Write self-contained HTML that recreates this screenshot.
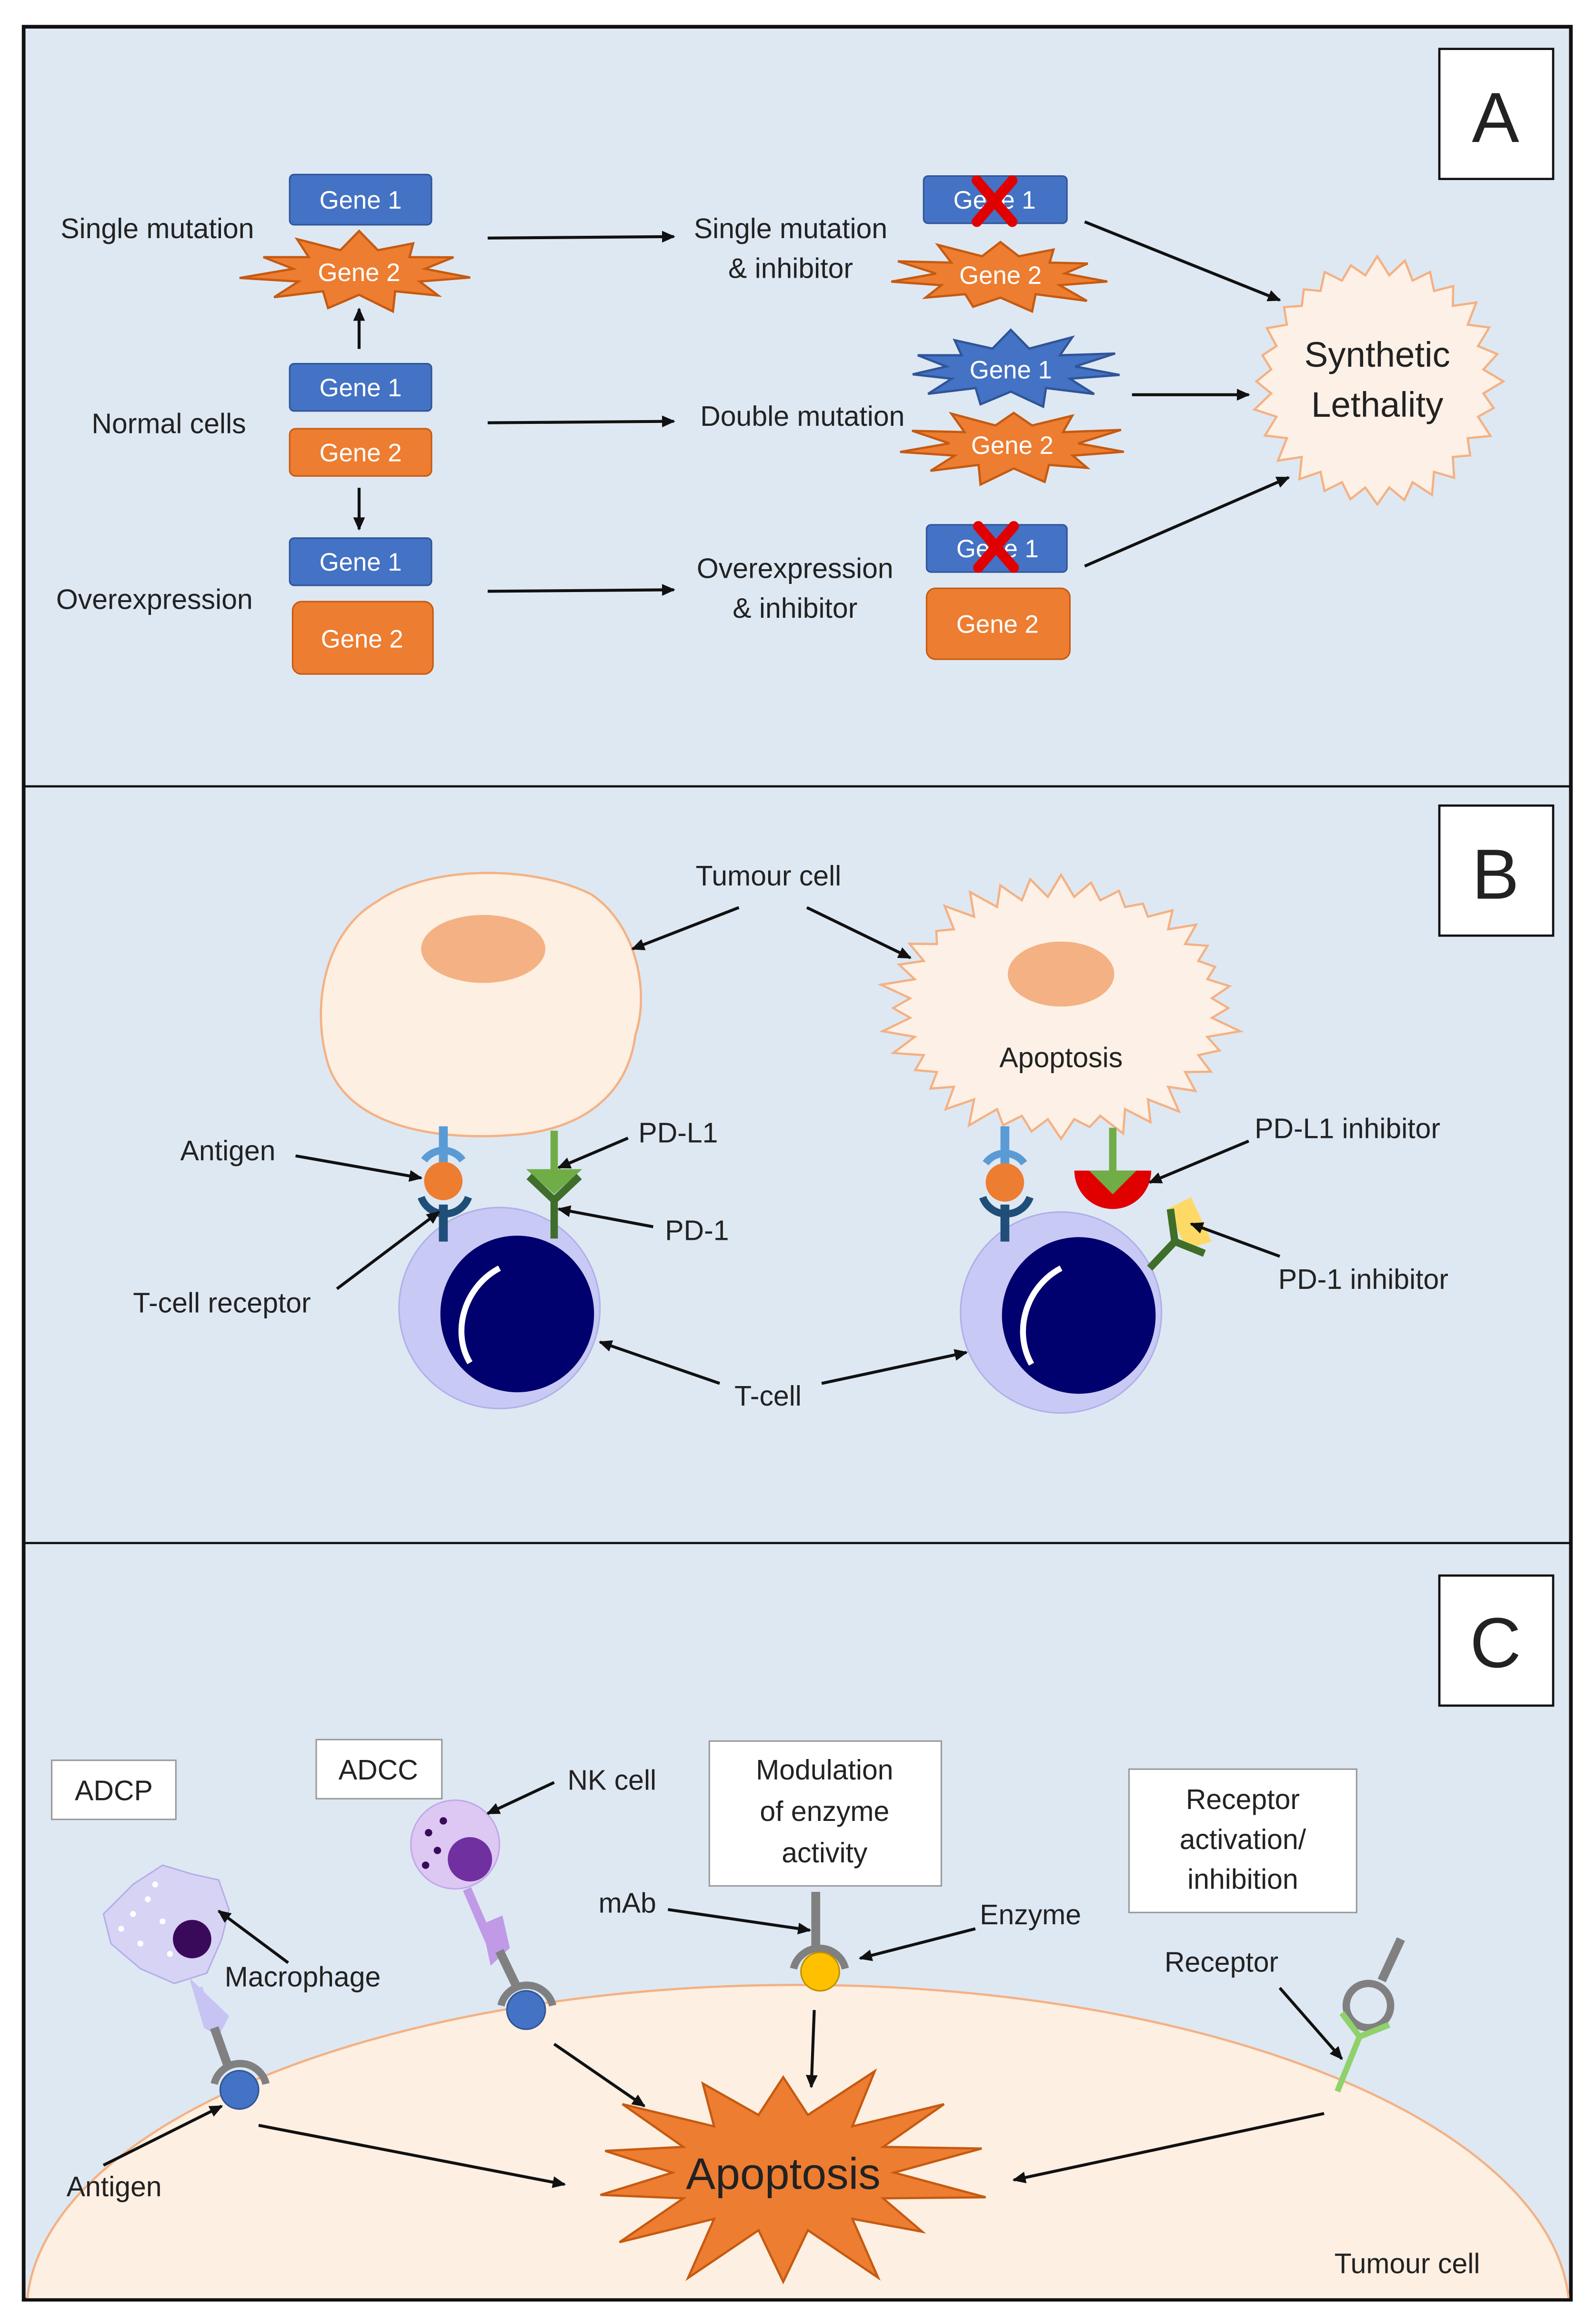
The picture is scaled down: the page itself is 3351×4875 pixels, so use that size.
<!DOCTYPE html>
<html><head><meta charset="utf-8"><style>
html,body{margin:0;padding:0;background:#fff;overflow:hidden;width:3351px;height:4875px}
svg{display:block}
text{font-family:"Liberation Sans",sans-serif;fill:#222}
</style></head><body>
<svg id="s" width="3351" height="4875" viewBox="0 0 1080 1571" xmlns="http://www.w3.org/2000/svg">
<defs>
<marker id="ar" markerWidth="10" markerHeight="10" refX="8" refY="5" orient="auto" markerUnits="userSpaceOnUse"><path d="M0,1 L9,5 L0,9 z" fill="#111"/></marker>
<clipPath id="cc"><rect x="17" y="1045" width="1045" height="510"/></clipPath>
</defs>
<rect x="0" y="0" width="1080" height="1571" fill="#fff"/>
<rect x="16" y="18" width="1047" height="1538" fill="#dee8f3" stroke="#111" stroke-width="2.5"/>
<line x1="16" y1="532" x2="1063" y2="532" stroke="#111" stroke-width="1.5"/>
<line x1="16" y1="1044" x2="1063" y2="1044" stroke="#111" stroke-width="1.5"/>
<g fill="#fff" stroke="#111" stroke-width="1.5">
<rect x="974" y="33" width="77" height="88"/><rect x="974" y="545" width="77" height="88"/><rect x="974" y="1066" width="77" height="88"/>
</g>
<g font-size="48" text-anchor="middle"><text x="1012" y="96">A</text><text x="1012" y="608">B</text><text x="1012" y="1128">C</text></g>

<g id="stars"></g>

<!-- Panel A -->
<g font-size="19">
<text x="41" y="161">Single mutation</text>
<text x="62" y="293">Normal  cells</text>
<text x="38" y="412">Overexpression</text>
<text x="535" y="161" text-anchor="middle">Single mutation</text>
<text x="535" y="188" text-anchor="middle">&amp; inhibitor</text>
<text x="543" y="288" text-anchor="middle">Double mutation</text>
<text x="538" y="391" text-anchor="middle">Overexpression</text>
<text x="538" y="418" text-anchor="middle">&amp; inhibitor</text>
</g>
<g fill="#4472c4" stroke="#2f5597" stroke-width="1">
<rect x="196" y="118" width="96" height="34" rx="3"/>
<rect x="196" y="246" width="96" height="32" rx="3"/>
<rect x="196" y="364" width="96" height="32" rx="3"/>
<rect x="625" y="119" width="97" height="32" rx="3"/>
<rect x="627" y="355" width="95" height="32" rx="3"/>
</g>
<g fill="#ed7d31" stroke="#c55a11" stroke-width="1">
<rect x="196" y="290" width="96" height="32" rx="4"/>
<rect x="198" y="407" width="95" height="49" rx="6"/>
<rect x="627" y="398" width="97" height="48" rx="6"/>
</g>
<g font-size="17" text-anchor="middle">
<text x="244" y="141" style="fill:#fff">Gene 1</text>
<text x="244" y="268" style="fill:#fff">Gene 1</text>
<text x="244" y="386" style="fill:#fff">Gene 1</text>
<text x="244" y="312" style="fill:#fff">Gene 2</text>
<text x="245" y="438" style="fill:#fff">Gene 2</text>
<text x="673" y="141" style="fill:#fff">Gene 1</text>
<text x="675" y="377" style="fill:#fff">Gene 1</text>
<text x="675" y="428" style="fill:#fff">Gene 2</text>
</g>
<g stroke="#e00000" stroke-width="7" stroke-linecap="round">
<line x1="661" y1="122" x2="685" y2="150"/><line x1="685" y1="122" x2="661" y2="150"/>
<line x1="662" y1="356" x2="686" y2="384"/><line x1="686" y1="356" x2="662" y2="384"/>
</g>
<g stroke="#111" stroke-width="2" marker-end="url(#ar)">
<line x1="243" y1="236" x2="243" y2="209"/>
<line x1="243" y1="330" x2="243" y2="358"/>
<line x1="330" y1="161" x2="456" y2="160"/>
<line x1="330" y1="286" x2="456" y2="285"/>
<line x1="330" y1="400" x2="456" y2="399"/>
<line x1="734" y1="150" x2="866" y2="203"/>
<line x1="766" y1="267" x2="845" y2="267"/>
<line x1="734" y1="383" x2="872" y2="323"/>
</g>
<g font-size="17" text-anchor="middle">
<text x="243" y="190" style="fill:#fff">Gene 2</text>
<text x="677" y="192" style="fill:#fff">Gene 2</text>
<text x="684" y="256" style="fill:#fff">Gene 1</text>
<text x="685" y="307" style="fill:#fff">Gene 2</text>
</g>
<g font-size="24" text-anchor="middle"><text x="932" y="248">Synthetic</text><text x="932" y="282">Lethality</text></g>

<!-- Panel B -->
<path d="M255,610 C290,585 360,585 400,605 C430,625 440,670 430,700 C425,740 395,765 345,768 C290,772 235,760 222,720 C210,680 220,630 255,610 Z" fill="#fdefe2" stroke="#f4b183" stroke-width="1.5"/>
<ellipse cx="327" cy="642" rx="42" ry="23" fill="#f4b183"/>
<ellipse cx="718" cy="659" rx="36" ry="22" fill="#f4b183"/>
<g font-size="19">
<text x="520" y="599" text-anchor="middle">Tumour  cell</text>
<text x="718" y="722" text-anchor="middle">Apoptosis</text>
<text x="122" y="785">Antigen</text>
<text x="432" y="773">PD-L1</text>
<text x="450" y="839">PD-1</text>
<text x="90" y="888">T-cell receptor</text>
<text x="497" y="951">T-cell</text>
<text x="849" y="770">PD-L1 inhibitor</text>
<text x="865" y="872">PD-1 inhibitor</text>
</g>
<g>
<circle cx="338" cy="885" r="68" fill="#c9c9f5" stroke="#b0b0e8"/>
<ellipse cx="350" cy="889" rx="52" ry="53" fill="#00006e"/>
<path d="M318,922 C305,900 315,870 338,858" stroke="#fff" stroke-width="4" fill="none"/>
<circle cx="718" cy="888" r="68" fill="#c9c9f5" stroke="#b0b0e8"/>
<ellipse cx="730" cy="890" rx="52" ry="53" fill="#00006e"/>
<path d="M698,923 C685,900 695,870 718,858" stroke="#fff" stroke-width="4" fill="none"/>
</g>
<g>
<line x1="300" y1="762" x2="300" y2="790" stroke="#5b9bd5" stroke-width="6"/>
<path d="M287,785 A16,16 0 0 1 313,785" stroke="#5b9bd5" stroke-width="5" fill="none"/>
<path d="M285,810 A17,17 0 0 0 317,810" stroke="#1f4e79" stroke-width="5" fill="none"/>
<circle cx="300" cy="799" r="13" fill="#ed7d31"/>
<line x1="300" y1="815" x2="300" y2="840" stroke="#1f4e79" stroke-width="6"/>
<line x1="375" y1="765" x2="375" y2="793" stroke="#70ad47" stroke-width="5"/>
<path d="M356,791 L394,791 L375,808 Z" fill="#70ad47"/>
<path d="M358,796 L375,812 L392,796" stroke="#3f6e2a" stroke-width="5" fill="none"/>
<line x1="375" y1="812" x2="375" y2="838" stroke="#3f6e2a" stroke-width="5"/>
</g>
<g>
<line x1="680" y1="762" x2="680" y2="790" stroke="#5b9bd5" stroke-width="6"/>
<path d="M667,787 A16,16 0 0 1 693,787" stroke="#5b9bd5" stroke-width="5" fill="none"/>
<path d="M665,810 A17,17 0 0 0 697,810" stroke="#1f4e79" stroke-width="5" fill="none"/>
<circle cx="680" cy="800" r="13" fill="#ed7d31"/>
<line x1="680" y1="815" x2="680" y2="840" stroke="#1f4e79" stroke-width="6"/>
<line x1="753" y1="763" x2="753" y2="792" stroke="#70ad47" stroke-width="5"/>
<path d="M727,792 L779,792 A26,26 0 0 1 727,792 Z" fill="#e00000"/>
<path d="M737,792 L769,792 L753,808 Z" fill="#70ad47"/>
<path d="M790,818 L806,810 L820,840 L803,845 Z" fill="#ffd966"/>
<path d="M778,858 L795,840 L792,818 M795,840 L815,848" stroke="#3f6e2a" stroke-width="5" fill="none"/>
</g>
<g stroke="#111" stroke-width="2" marker-end="url(#ar)">
<line x1="500" y1="614" x2="428" y2="642"/>
<line x1="546" y1="614" x2="616" y2="648"/>
<line x1="200" y1="782" x2="285" y2="797"/>
<line x1="425" y1="770" x2="378" y2="790"/>
<line x1="442" y1="830" x2="378" y2="818"/>
<line x1="228" y1="872" x2="297" y2="820"/>
<line x1="487" y1="936" x2="406" y2="908"/>
<line x1="556" y1="936" x2="654" y2="915"/>
<line x1="845" y1="772" x2="778" y2="800"/>
<line x1="866" y1="850" x2="806" y2="828"/>
</g>

<!-- Panel C -->
<ellipse cx="540" cy="1565" rx="522" ry="222" fill="#fdefe2" stroke="#f4b183" stroke-width="1.5" clip-path="url(#cc)"/>
<g id="stars2"></g>
<g fill="#fff" stroke="#999" stroke-width="1">
<rect x="35" y="1191" width="84" height="40"/>
<rect x="214" y="1177" width="85" height="40"/>
<rect x="480" y="1178" width="157" height="98"/>
<rect x="764" y="1197" width="154" height="97"/>
</g>
<g font-size="19" text-anchor="middle">
<text x="77" y="1218">ADCP</text>
<text x="256" y="1204">ADCC</text>
<text x="558" y="1204">Modulation</text>
<text x="558" y="1232">of enzyme</text>
<text x="558" y="1260">activity</text>
<text x="841" y="1224">Receptor</text>
<text x="841" y="1251">activation/</text>
<text x="841" y="1278">inhibition</text>
</g>
<g font-size="19">
<text x="152" y="1344">Macrophage</text>
<text x="384" y="1211">NK cell</text>
<text x="45" y="1486">Antigen</text>
<text x="405" y="1294">mAb</text>
<text x="663" y="1302">Enzyme</text>
<text x="788" y="1334">Receptor</text>
<text x="903" y="1538">Tumour  cell</text>
</g>
<path d="M90,1275 L110,1262 L130,1268 L148,1272 L155,1292 L150,1312 L140,1335 L118,1342 L95,1332 L75,1315 L70,1295 Z" fill="#d7d3f5" stroke="#b4aee8"/>
<g fill="#fff"><circle cx="90" cy="1295" r="2"/><circle cx="100" cy="1285" r="2"/><circle cx="110" cy="1300" r="2"/><circle cx="95" cy="1315" r="2"/><circle cx="115" cy="1322" r="2"/><circle cx="105" cy="1275" r="2"/><circle cx="82" cy="1305" r="2"/></g>
<circle cx="130" cy="1312" r="13" fill="#3a0a5a"/>
<path d="M128,1338 L138,1372 L148,1378 L155,1364 Z" fill="#c7c3f2"/>
<line x1="134" y1="1345" x2="143" y2="1372" stroke="#c7c3f2" stroke-width="6"/>
<line x1="145" y1="1372" x2="155" y2="1400" stroke="#808080" stroke-width="6"/>
<path d="M145,1410 A18,18 0 0 1 180,1410" stroke="#808080" stroke-width="5" fill="none"/>
<circle cx="162" cy="1414" r="13" fill="#4472c4" stroke="#2f5597"/>
<circle cx="308" cy="1248" r="30" fill="#dcc8f3" stroke="#c2a8ea"/>
<circle cx="318" cy="1258" r="15" fill="#7030a0"/>
<g fill="#3a0a5a"><circle cx="290" cy="1240" r="2.5"/><circle cx="296" cy="1252" r="2.5"/><circle cx="300" cy="1232" r="2.5"/><circle cx="288" cy="1262" r="2.5"/></g>
<line x1="316" y1="1278" x2="332" y2="1315" stroke="#c09ae6" stroke-width="6"/>
<path d="M326,1302 L340,1296 L345,1318 L332,1330 Z" fill="#c09ae6"/>
<line x1="338" y1="1320" x2="350" y2="1345" stroke="#808080" stroke-width="6"/>
<path d="M339,1357 A18,18 0 0 1 374,1357" stroke="#808080" stroke-width="5" fill="none"/>
<circle cx="356" cy="1360" r="13" fill="#4472c4" stroke="#2f5597"/>
<line x1="552" y1="1280" x2="552" y2="1318" stroke="#808080" stroke-width="6"/>
<path d="M537,1332 A18,18 0 0 1 572,1332" stroke="#808080" stroke-width="5" fill="none"/>
<circle cx="555" cy="1334" r="13" fill="#ffc000" stroke="#bf9000"/>
<line x1="948" y1="1312" x2="935" y2="1340" stroke="#808080" stroke-width="6"/>
<circle cx="926" cy="1357" r="15" fill="none" stroke="#808080" stroke-width="5"/>
<path d="M908,1362 L920,1378 L940,1370 M920,1378 L905,1415" stroke="#8fd16a" stroke-width="4" fill="none"/>
<g stroke="#111" stroke-width="2" marker-end="url(#ar)">
<line x1="195" y1="1328" x2="148" y2="1293"/>
<line x1="375" y1="1206" x2="330" y2="1227"/>
<line x1="70" y1="1465" x2="150" y2="1425"/>
<line x1="452" y1="1292" x2="548" y2="1306"/>
<line x1="660" y1="1305" x2="582" y2="1325"/>
<line x1="866" y1="1345" x2="908" y2="1393"/>
<line x1="175" y1="1438" x2="382" y2="1478"/>
<line x1="375" y1="1383" x2="436" y2="1425"/>
<line x1="551" y1="1360" x2="549" y2="1412"/>
<line x1="896" y1="1430" x2="686" y2="1475"/>
</g>
<text x="530" y="1481" font-size="30" text-anchor="middle">Apoptosis</text>
</svg>
<script>
(function(){
var NS="http://www.w3.org/2000/svg";
function star(gid,cx,cy,rx,ry,n,inner,fill,stroke,jit){
 var g=document.getElementById(gid);
 var pts=[],seed=cx*7+cy*3;
 for(var i=0;i<2*n;i++){
  var a=Math.PI*i/n - Math.PI/2, r=(i%2==0)?1:inner;
  if(jit){seed=(seed*9301+49297)%233280; r*= (i%2==0)?(1-jit*seed/233280):1;}
  pts.push((cx+rx*r*Math.cos(a)).toFixed(1)+","+(cy+ry*r*Math.sin(a)).toFixed(1));
 }
 var p=document.createElementNS(NS,"polygon");
 p.setAttribute("points",pts.join(" "));p.setAttribute("fill",fill);
 if(stroke){p.setAttribute("stroke",stroke);p.setAttribute("stroke-width","1.5");}
 g.appendChild(p);
}
star("stars",243,184,82,28,11,0.55,"#ed7d31","#c55a11",0.2);
star("stars",677,187,80,26,11,0.55,"#ed7d31","#c55a11",0.2);
star("stars",684,250,80,27,11,0.55,"#4472c4","#2f5597",0.2);
star("stars",686,302,80,27,11,0.55,"#ed7d31","#c55a11",0.2);
star("stars",932,258,86,86,28,0.84,"#fdf1e7","#f4b183",0.08);
star("stars",718,682,125,92,36,0.82,"#fdf1e7","#f4b183",0.12);
star("stars2",530,1470,150,80,14,0.5,"#ed7d31","#c55a11",0.2);
})();
</script>
</body></html>
